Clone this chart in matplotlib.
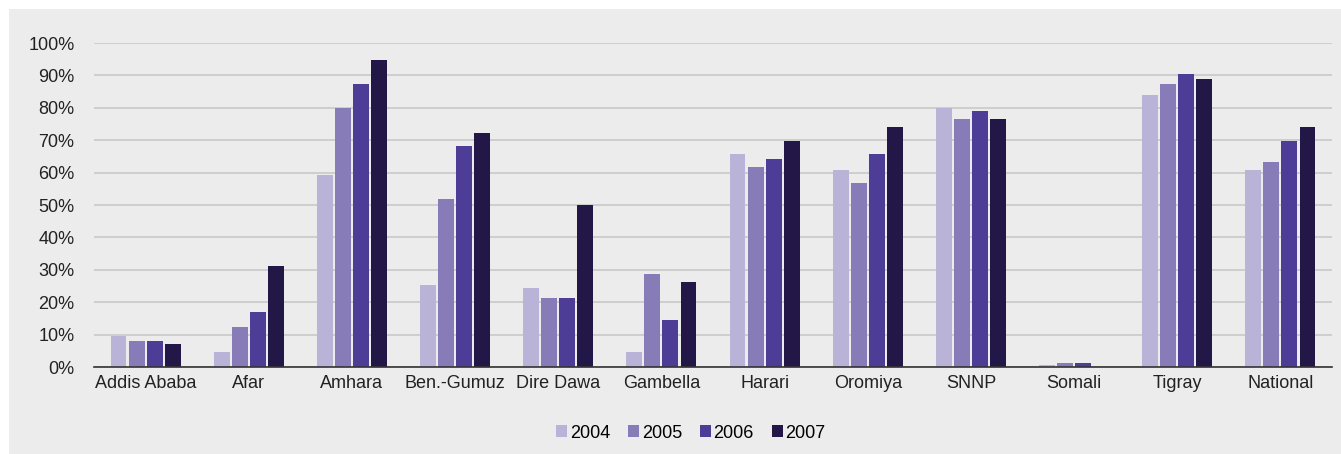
import numpy as np
import matplotlib.pyplot as plt
from matplotlib.patches import Rectangle, Patch

plt.rcParams['font.family'] = ['Liberation Sans', 'DejaVu Sans']

regions = ['Addis Ababa', 'Afar', 'Amhara', 'Ben.-Gumuz', 'Dire Dawa', 'Gambella',
           'Harari', 'Oromiya', 'SNNP', 'Somali', 'Tigray', 'National']
years = ['2004', '2005', '2006', '2007']

# percent values
v2004 = [9.6, 4.6, 59.2, 25.3, 24.5, 4.6, 65.8, 60.8, 79.8, 0.5, 83.9, 60.8]
v2005 = [8.0, 12.2, 79.8, 51.8, 21.2, 28.7, 61.6, 56.7, 76.5, 1.3, 87.2, 63.3]
v2006 = [8.0, 17.1, 87.2, 68.2, 21.2, 14.6, 64.1, 65.8, 79.0, 1.3, 90.5, 69.9]
v2007 = [7.2, 31.1, 94.6, 72.3, 50.1, 26.1, 69.9, 74.0, 76.5, 0.0, 88.9, 74.0]

colors = ['#bab3d8', '#877cb8', '#4d3d96', '#231748']
bg = '#ececec'

fig = plt.figure(figsize=(13.41, 4.54), dpi=100)
fig.patch.set_facecolor('white')
# grey panel, leaving a thin white strip at top and left
fig.patches.append(Rectangle((9 / 1341, 0), 1, (454 - 9) / 454,
                             transform=fig.transFigure, facecolor=bg,
                             edgecolor='none', zorder=-5))

ax = fig.add_axes([94 / 1341, (454 - 367) / 454, (1332 - 94) / 1341, (367 - 43) / 454])
ax.set_facecolor('none')

x = np.arange(len(regions))
slot = 0.175
bw = 0.155
series = [v2004, v2005, v2006, v2007]
for i, vals in enumerate(series):
    ax.bar(x + (i - 1.5) * slot, vals, width=bw, color=colors[i], zorder=3)

ax.set_xlim(-0.5, len(regions) - 0.5)
ax.set_ylim(0, 100)
ax.set_yticks(np.arange(0, 101, 10))
ax.set_yticklabels([f'{t}%' for t in range(0, 101, 10)])
ax.set_xticks(x)
ax.set_xticklabels(regions)
ax.grid(axis='y', color='#c9c9c9', linewidth=1.2, zorder=1)
ax.set_axisbelow(True)
for s in ['top', 'right', 'left']:
    ax.spines[s].set_visible(False)
ax.spines['bottom'].set_color('#333333')
ax.spines['bottom'].set_linewidth(1.2)
ax.spines['bottom'].set_zorder(4)
ax.tick_params(axis='y', length=0, pad=14, labelsize=13, labelcolor='#222222')
ax.tick_params(axis='x', length=0, pad=6, labelsize=13, labelcolor='#222222')

handles = [Patch(facecolor=c, edgecolor='none') for c in colors]
fig.legend(handles, years, loc='center', bbox_to_anchor=(691 / 1341, 1 - 433 / 454),
           ncol=4, frameon=False, fontsize=13, handlelength=0.6, handleheight=0.6,
           handletextpad=0.15, columnspacing=1.0)

fig.savefig('out.png', dpi=100, facecolor=fig.get_facecolor())
